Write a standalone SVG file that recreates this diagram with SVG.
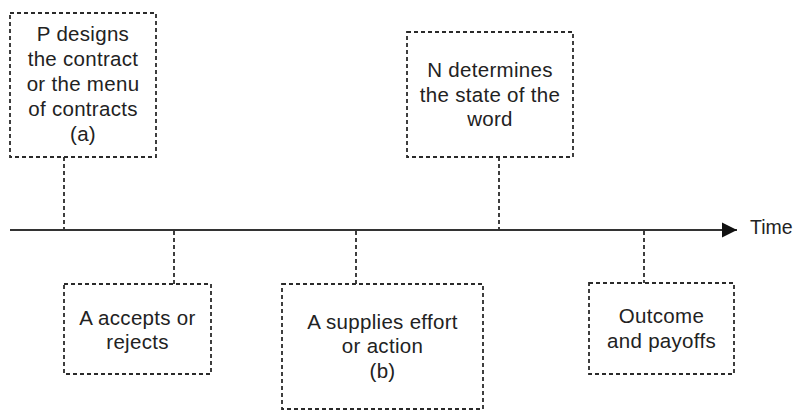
<svg xmlns="http://www.w3.org/2000/svg" width="794" height="411" viewBox="0 0 794 411">
<style>
.box{fill:none;stroke:#2a2a2a;stroke-width:1.8;stroke-dasharray:4 3}
.dash{fill:none;stroke:#2a2a2a;stroke-width:1.8;stroke-dasharray:4 3}
.t{font-family:"Liberation Sans",Arial,sans-serif;font-size:20.5px;letter-spacing:0.3px;fill:#222;text-anchor:middle}
.time{font-family:"Liberation Sans",Arial,sans-serif;font-size:19.5px;fill:#222}
</style>
<defs>
<marker id="arr" markerUnits="userSpaceOnUse" markerWidth="16" markerHeight="16" refX="15" refY="8" orient="auto">
<path d="M0,0.5 L15,8 L0,15.5 Z" fill="#111"/>
</marker>
</defs>
<rect width="794" height="411" fill="#fff"/>
<g id="connectors">
<line x1="10" y1="230" x2="737" y2="230" stroke="#333" stroke-width="2.2" marker-end="url(#arr)"/>
<line class="dash" x1="64" y1="157" x2="64" y2="229"/>
<line class="dash" x1="499" y1="157" x2="499" y2="229"/>
<line class="dash" x1="174" y1="231" x2="174" y2="284"/>
<line class="dash" x1="356" y1="231" x2="356" y2="284"/>
<line class="dash" x1="644" y1="231" x2="644" y2="283"/>
</g>
<g id="node-p">
<rect class="box" x="10" y="13" width="146" height="144"/>
<text class="t" x="83" y="41">P designs</text>
<text class="t" x="83" y="66">the contract</text>
<text class="t" x="83" y="91">or the menu</text>
<text class="t" x="83" y="116">of contracts</text>
<text class="t" x="83" y="141">(a)</text>
</g>
<g id="node-n">
<rect class="box" x="407" y="32" width="166" height="125"/>
<text class="t" x="490" y="77">N determines</text>
<text class="t" x="490" y="102">the state of the</text>
<text class="t" x="490" y="126">word</text>
</g>
<g id="node-accept">
<rect class="box" x="64" y="284" width="147" height="90"/>
<text class="t" x="137.5" y="325">A accepts or</text>
<text class="t" x="137.5" y="349">rejects</text>
</g>
<g id="node-effort">
<rect class="box" x="282" y="284" width="201" height="125"/>
<text class="t" x="382.5" y="329">A supplies effort</text>
<text class="t" x="382.5" y="353">or action</text>
<text class="t" x="382.5" y="378">(b)</text>
</g>
<g id="node-outcome">
<rect class="box" x="589" y="283" width="145" height="91"/>
<text class="t" x="661.5" y="323">Outcome</text>
<text class="t" x="661.5" y="348">and payoffs</text>
</g>
<g id="label-time">
<text class="time" x="750" y="234">Time</text>
</g>
</svg>
